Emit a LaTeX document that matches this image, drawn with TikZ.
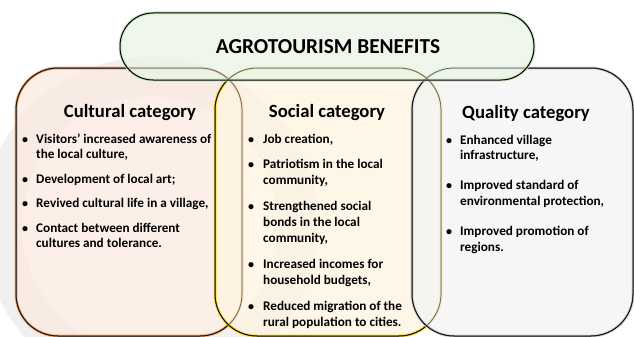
\documentclass[tikz,border=0pt]{standalone}
\usepackage{fontspec}
\setmainfont{Carlito}
\usetikzlibrary{positioning}

\definecolor{culfill}{HTML}{FCEAE0}
\definecolor{culedge}{HTML}{F7B27C}
\definecolor{socfill}{HTML}{FEF5DE}
\definecolor{socedge}{HTML}{FADB4A}
\definecolor{qualfill}{HTML}{F3F3F3}
\definecolor{qualedge}{HTML}{D8D8D8}
\definecolor{topfill}{HTML}{EAF5E5}
\definecolor{topedge}{HTML}{CDE6C0}

\tikzset{
  catbox/.style={rounded corners=42pt, fill opacity=0.72, line width=3pt, outer sep=0pt,
    postaction={draw=black, line width=1pt, draw opacity=1}},
  outline/.style={draw=black!80, line width=0.7pt, draw opacity=0.55},
  cattitle/.style={font=\fontsize{18.7}{20}\selectfont\bfseries, anchor=base},
  txt/.style={font=\fontsize{13.2}{15}\selectfont\bfseries, anchor=base west, inner sep=0pt},
  blt/.style={font=\fontsize{12}{14}\selectfont\bfseries, anchor=base, inner sep=0pt}
}

\begin{document}
\begin{tikzpicture}[x=1pt, y=-1pt]
  \useasboundingbox[fill=white] (0,0) rectangle (634,337);

  % faint watermark ring
  \fill[gray!12, even odd rule] (150,225) circle (168) (150,225) circle (128);

  % category boxes
  \node[catbox, fill=culfill, draw=culedge, minimum width=226, minimum height=268] (cul) at (129,202) {};
  \node[catbox, fill=socfill, draw=socedge, minimum width=226, minimum height=268] (soc) at (328,202) {};
  \node[catbox, fill=qualfill, draw=qualedge, minimum width=221, minimum height=268] (qual) at (522.5,202) {};

  % header
  \node[catbox, rounded corners=33pt, fill=topfill, draw=topedge, minimum width=414, minimum height=67] (top) at (327,46.5) {};

  % outlines seen through the overlaps
  \draw[outline, rounded corners=42pt] (cul.south west) rectangle (cul.north east);
  \draw[outline, rounded corners=42pt] (soc.south west) rectangle (soc.north east);
  \draw[outline, rounded corners=42pt] (qual.south west) rectangle (qual.north east);

  \node[font=\fontsize{21.3}{23}\selectfont\bfseries, anchor=base] (head) at (328,53) {AGROTOURISM BENEFITS};

  % titles
  \node[cattitle] (cultitle) at (130,117) {Cultural category};
  \node[cattitle] (soctitle) at (327,117) {Social category};
  \node[cattitle] (qualtitle) at (526,118) {Quality category};

  % cultural items
  \foreach \y in {143,183,207,232}
    \node[blt] (culb-\y) at (25,\y) {\textbullet};
  \foreach \y/\t in {143/{Visitors’ increased awareness of}, 158/{the local culture,},
      183/{Development of local art;}, 207/{Revived cultural life in a village,},
      232/{Contact between different}, 247/{cultures and tolerance.}}
    \node[txt] (cult-\y) at (36,\y) {\t};

  % social items
  \foreach \y in {143,168,210,268,310}
    \node[blt] (socb-\y) at (251,\y) {\textbullet};
  \foreach \y/\t in {143/{Job creation,}, 168/{Patriotism in the local}, 184/{community,},
      210/{Strengthened social}, 226/{bonds in the local}, 242/{community,},
      268/{Increased incomes for}, 284/{household budgets,},
      310/{Reduced migration of the}, 326/{rural population to cities.}}
    \node[txt] (soct-\y) at (263,\y) {\t};

  % quality items
  \foreach \y in {144,189,235}
    \node[blt] (qualb-\y) at (449,\y) {\textbullet};
  \foreach \y/\t in {144/{Enhanced village}, 159/{infrastructure,},
      189/{Improved standard of}, 205/{environmental protection,},
      235/{Improved promotion of}, 251/{regions.}}
    \node[txt] (qualt-\y) at (460,\y) {\t};
\end{tikzpicture}
\end{document}
